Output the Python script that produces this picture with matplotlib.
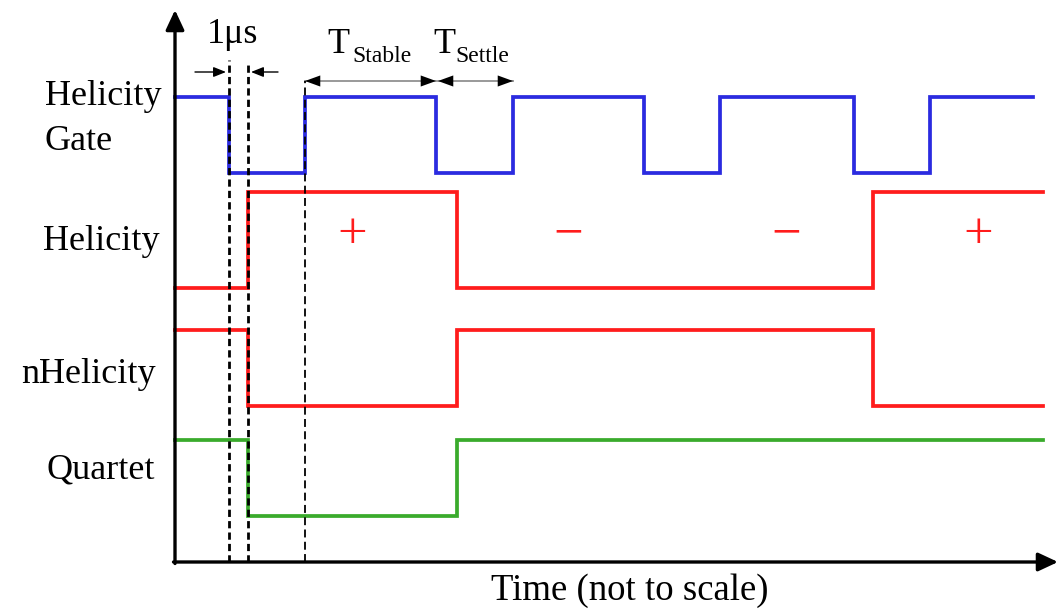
import matplotlib.pyplot as plt

plt.rcParams['font.family'] = ['Liberation Serif', 'DejaVu Serif']

# timing data, time runs from the vertical axis (t=0)
gate_edges = [54, 130, 261, 338, 469, 545, 679, 755]
gate_levels = [1, 0, 1, 0, 1, 0, 1, 0, 1]
gate_stop = 858

hel_edges = [73, 282, 698]
hel_levels = [0, 1, 0, 1]
nhel_levels = [1, 0, 1, 0]

quartet_edges = [73, 282]
quartet_levels = [1, 0, 1]
sig_stop = 868

hel_signs = ['+', '\u2212', '\u2212', '+']
sign_times = [177, 393, 611, 803]

signal_names = ['Helicity', 'Gate', 'Helicity', 'nHelicity', 'Quartet']

fig = plt.figure(figsize=(10.61, 6.14), dpi=100)
ax = fig.add_axes([0, 0, 1, 1])
ax.set_xlim(-175, 886)
ax.set_ylim(-52, 562)
ax.axis('off')


def trace(edges, levels, stop, low, swing, color, lw=2.7):
    xs = [0] + edges + [stop]
    ys = [low + swing * v for v in levels + [levels[-1]]]
    ax.step(xs, ys, where='post', color=color, lw=lw,
            solid_joinstyle='miter', zorder=3)


trace(gate_edges, gate_levels, gate_stop, 389, 76, '#2b2be0')
trace(hel_edges, hel_levels, sig_stop, 274, 96, '#ff1c1c')
trace(hel_edges, nhel_levels, sig_stop, 156, 76, '#ff1c1c')
trace(quartet_edges, quartet_levels, sig_stop, 46, 76, '#3aab2c')

# dashed markers for the 1us window and start of T_stable
ax.plot([54, 54], [0, 502], color='k', lw=2.0, ls=(0, (2.6, 1.5)), zorder=4)
ax.plot([73, 73], [0, 499], color='k', lw=2.0, ls=(0, (2.6, 1.5)), zorder=4)
ax.plot([130, 130], [0, 481], color='k', lw=1.3, ls=(0, (4.4, 2.4)), zorder=4)

# axes with arrow heads
axis_arrow = dict(arrowstyle='-|>,head_length=0.6,head_width=0.28',
                  lw=2.4, color='k', shrinkA=0, shrinkB=0, mutation_scale=20)
ax.annotate('', xy=(0, 552), xytext=(0, -1.5), arrowprops=axis_arrow)
ax.annotate('', xy=(883, 0), xytext=(-1.5, 0), arrowprops=axis_arrow)

# 1us arrows
small = dict(arrowstyle='-|>,head_length=0.5,head_width=0.2', lw=1.0,
             color='k', shrinkA=0, shrinkB=0, mutation_scale=15)
ax.annotate('', xy=(51, 490), xytext=(20, 490), arrowprops=small)
ax.annotate('', xy=(76, 490), xytext=(103, 490), arrowprops=small)
ax.text(58, 519, '1\u03bcs', fontsize=26, ha='center', va='baseline')

# T_stable / T_settle spans
for a, b in [(130, 261), (263, 338)]:
    ax.plot([a, b], [481, 481], color='0.6', lw=1.4, zorder=2)
    ax.annotate('', xy=(b, 481), xytext=(a, 481),
                arrowprops=dict(arrowstyle='<|-|>,head_length=0.55,head_width=0.2',
                                lw=0, color='k', shrinkA=0, shrinkB=0,
                                mutation_scale=20))
ax.text(152, 509, 'T', fontsize=26, ha='left', va='baseline')
ax.text(177, 500, 'Stable', fontsize=17, ha='left', va='baseline')
ax.text(258, 509, 'T', fontsize=26, ha='left', va='baseline')
ax.text(280, 500, 'Settle', fontsize=17, ha='left', va='baseline')

# signal names
label_x = [-130, -130, -132, -154, -128]
label_y = [457, 412, 312, 179, 84]
for name, x, y in zip(signal_names, label_x, label_y):
    ax.text(x, y, name, fontsize=26, ha='left', va='baseline')

# helicity state signs
for s, t in zip(hel_signs, sign_times):
    ax.text(t, 314, s, fontsize=38, color='#ff1c1c', ha='center', va='baseline')

ax.text(455, -38, 'Time (not to scale)', fontsize=26.5, ha='center', va='baseline')

fig.savefig('out.png', dpi=100)
